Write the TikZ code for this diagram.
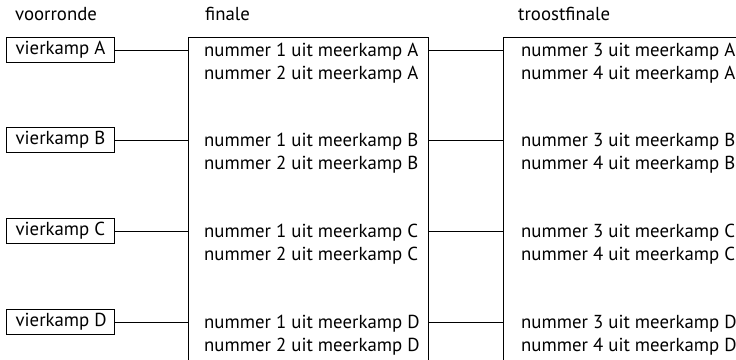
\documentclass[tikz,border=0pt]{standalone}
\usepackage{fontspec}
\setmainfont{PT Sans}
\begin{document}
\begin{tikzpicture}[x=1pt,y=-1pt,
  every node/.style={font=\fontsize{18.8}{22}\selectfont},
  frame/.style={draw, line width=1.2pt, rectangle, anchor=north west, inner sep=0pt},
  vbox/.style={draw, line width=1.2pt, rectangle, anchor=west, minimum width=108.5pt, minimum height=25pt, inner xsep=9.5pt, inner ysep=0pt},
  lbl/.style={anchor=base west, inner sep=0pt},
  conn/.style={line width=0.9pt}]
\useasboundingbox (0,0) rectangle (736,359);
\clip (0,0) rectangle (736,359);
% headers
\node[lbl] (hv) at (15,20) {voorronde};
\node[lbl] (hf) at (205,20) {finale};
\node[lbl] (ht) at (518,20) {troostfinale};
% big frames
\node[frame, minimum width=240pt, minimum height=340pt] (fin) at (188,37) {};
\node[frame, minimum width=300pt, minimum height=340pt] (tro) at (502.5,37) {};
% rows
\foreach \L/\y in {A/50, B/140, C/231, D/322} {
  \node[vbox] (v\L) at (5.5,\y) {\makebox[89.5pt][l]{vierkamp \L}};
  \coordinate (fl\L) at (fin.west |- v\L);
  \coordinate (fr\L) at (fin.east |- v\L);
  \coordinate (tl\L) at (tro.west |- v\L);
  \draw[conn] (v\L.east) -- (fl\L);
  \draw[conn] (fr\L) -- (tl\L);
  \node[lbl] (f1\L) at (204,\y+6.5) {nummer 1 uit meerkamp \L};
  \node[lbl] (f2\L) at (204,\y+29) {nummer 2 uit meerkamp \L};
  \node[lbl] (t1\L) at (521,\y+6.5) {nummer 3 uit meerkamp \L};
  \node[lbl] (t2\L) at (521,\y+29) {nummer 4 uit meerkamp \L};
}
\end{tikzpicture}
\end{document}
